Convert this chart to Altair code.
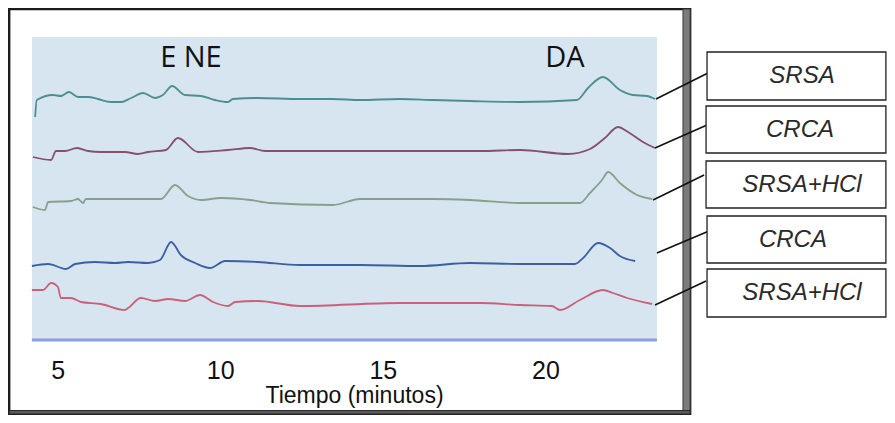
import altair as alt
import pandas as pd

# ---- chromatogram traces: time (min) and detector response (arb. units, stacked offsets)
t1 = [4.31, 4.36, 4.86, 5.10, 5.35, 5.63, 5.94, 6.24, 6.64, 6.95, 7.26, 7.63, 8.00, 8.24, 8.52, 8.92, 9.41, 9.84,
      10.24, 10.39, 11.16, 12.45, 13.47, 14.30, 15.53, 16.54, 17.68, 19.22, 20.97, 21.31, 21.77, 22.29, 22.69, 23.12, 23.37]
s1 = [223, 240, 245, 244, 248, 243, 243, 241, 238, 238, 242, 247, 242, 245, 254, 245, 244, 240,
      238, 241, 242, 241, 241, 240, 241, 240, 239, 238, 240, 252, 263, 250, 245, 244, 241]

t2 = [4.24, 4.80, 4.95, 5.23, 5.60, 5.94, 6.33, 7.07, 7.47, 7.78, 8.33, 8.70, 9.32, 10.24, 10.92, 11.38,
      12.45, 14.30, 16.14, 17.99, 19.22, 20.70, 21.37, 21.83, 22.23, 22.54, 23.00, 23.37]
s2 = [183, 180, 189, 189, 192, 189, 188, 188, 186, 188, 190, 202, 188, 190, 192, 189,
      189, 189, 189, 189, 190, 186, 191, 202, 213, 208, 198, 192]

t3 = [4.24, 4.61, 4.71, 5.41, 5.63, 5.78, 5.87, 6.64, 8.18, 8.61, 9.01, 9.41, 10.03, 10.92, 11.53, 13.47,
      14.30, 16.54, 17.68, 19.22, 20.14, 21.06, 21.37, 21.74, 21.93, 22.29, 22.82, 23.28]
s3 = [133, 130, 138, 139, 141, 137, 141, 141, 141, 155, 144, 140, 142, 140, 137, 135,
      141, 141, 140, 137, 137, 137, 147, 160, 168, 157, 145, 141]

t4 = [4.21, 4.71, 5.26, 5.54, 6.15, 6.77, 7.17, 7.78, 8.15, 8.49, 8.79, 9.23, 9.69, 10.15, 11.16, 12.45,
      14.30, 16.14, 17.68, 19.22, 20.91, 21.16, 21.62, 21.99, 22.29, 22.76]
s4 = [74, 76, 71, 76, 78, 77, 78, 77, 80, 98, 85, 77, 72, 79, 78, 75,
      75, 74, 77, 76, 76, 82, 97, 92, 84, 79]

t5 = [4.21, 4.55, 4.80, 5.01, 5.10, 5.41, 5.72, 6.33, 7.07, 7.17, 7.56, 8.00, 8.40, 8.92, 9.38, 9.78,
      10.24, 10.46, 11.16, 12.45, 15.53, 17.99, 19.22, 20.20, 20.45, 21.06, 21.77, 22.08, 22.51, 23.28]
s5 = [50, 50, 57, 53, 42, 42, 38, 36, 30, 32, 42, 39, 41, 39, 45, 38,
      34, 38, 39, 34, 37, 37, 35, 34, 30, 40, 50, 47, 42, 36]

trace_ids = ["T1", "T2", "T3", "T4", "T5"]
trace_colors = ["#4b8f90", "#86506c", "#86a08a", "#3c5ea3", "#cc5f79"]

# ---- peak annotations
peak_names = ["E NE", "DA"]
peak_t = [9.10, 20.60]
peak_s = [273, 273]

# ---- sample label boxes (right side) and leader lines
label_names = ["SRSA", "CRCA", "SRSA+HCl", "CRCA", "SRSA+HCl"]
label_text_t = [27.89, 27.83, 27.89, 27.61, 27.89]
label_text_s = [264, 210, 155, 100, 47]
box_t0 = [24.97, 24.94, 24.94, 24.97, 24.97]
box_t1 = [30.47, 30.47, 30.47, 30.47, 30.47]
box_s0 = [288, 234, 179, 124, 71]
box_s1 = [240, 187, 132, 77, 23]
lead_t0 = [23.40, 23.37, 23.31, 23.43, 23.37]
lead_s0 = [241, 192, 140, 87, 35]
lead_t1 = [25.00, 24.97, 24.88, 25.03, 24.94]
lead_s1 = [267, 215, 165, 109, 59]

# ---- axis
tick_values = [5, 10, 15, 20]
x_title = "Tiempo (minutos)"

# ---- plot region and frame (in data units)
plot_t = [4.21, 23.43]
plot_s = [0, 303]
frame_t = [3.51, 24.45]
frame_s = [331, -74]

W, H = 879, 407
xs = alt.Scale(domain=[3.475, 30.504], nice=False, zero=False)
ys = alt.Scale(domain=[-75, 332], nice=False, zero=False)

rows = []
for tid, tt, ss in zip(trace_ids, [t1, t2, t3, t4, t5], [s1, s2, s3, s4, s5]):
    for i, (a, b) in enumerate(zip(tt, ss)):
        rows.append({"trace": tid, "t": a, "s": b, "i": i})
df = pd.DataFrame(rows)

frame_df = pd.DataFrame({"t0": [frame_t[0]], "t1": [frame_t[1]], "s0": [frame_s[0]], "s1": [frame_s[1]]})
rbar_df = pd.DataFrame({"t0": [24.23], "t1": [24.45], "s0": [frame_s[0]], "s1": [frame_s[1]]})
bbar_df = pd.DataFrame({"t0": [frame_t[0]], "t1": [frame_t[1]], "s0": [-70.5], "s1": [frame_s[1]]})
plot_df = pd.DataFrame({"t0": [plot_t[0]], "t1": [plot_t[1]], "s0": [plot_s[0]], "s1": [plot_s[1]]})
base_df = pd.DataFrame({"t0": [plot_t[0]], "t1": [plot_t[1]], "s": [0]})
peak_df = pd.DataFrame({"name": peak_names, "t": peak_t, "s": peak_s})
box_df = pd.DataFrame({"t0": box_t0, "t1": box_t1, "s0": box_s0, "s1": box_s1})
lab_df = pd.DataFrame({"name": label_names, "t": label_text_t, "s": label_text_s})
lead_df = pd.DataFrame({"t0": lead_t0, "t1": lead_t1, "s0": lead_s0, "s1": lead_s1})


def rect_layer(data, **mk):
    return alt.Chart(data).mark_rect(**mk).encode(
        x=alt.X("t0:Q", scale=xs, axis=None),
        x2="t1:Q",
        y=alt.Y("s0:Q", scale=ys, axis=None),
        y2="s1:Q",
    )


frame = rect_layer(frame_df, fill="white", stroke="#1c1c1c", strokeWidth=2.5)
rbar = rect_layer(rbar_df, fill="#7b7b7b", stroke="#3a3a3a", strokeWidth=1)
bbar = rect_layer(bbar_df, fill="#5a5a5a", stroke="#2a2a2a", strokeWidth=1)
plotbg = rect_layer(plot_df, fill="#d6e5f0")

baseline = alt.Chart(base_df).mark_rule(color="#8d9edb", strokeWidth=3).encode(
    x=alt.X("t0:Q", scale=xs, axis=None), x2="t1:Q", y=alt.Y("s:Q", scale=ys, axis=None)
)

lines = alt.Chart(df).mark_line(strokeWidth=1.8, interpolate="monotone").encode(
    x=alt.X(
        "t:Q",
        scale=xs,
        axis=alt.Axis(
            values=tick_values,
            offset=-75,
            zindex=2,
            domain=False,
            ticks=False,
            tickSize=0,
            grid=False,
            labelPadding=38,
            labelBaseline="alphabetic",
            labelFont="Liberation Sans",
            labelFontSize=25,
            labelColor="#111111",
            labelFlush=False,
            title=x_title,
            titleFont="Liberation Sans",
            titleFontSize=23,
            titleFontWeight="normal",
            titleColor="#111111",
            titleX=346,
            titleY=62,
            titleBaseline="alphabetic",
            titleAlign="center",
        ),
    ),
    y=alt.Y("s:Q", scale=ys, axis=None),
    color=alt.Color("trace:N", scale=alt.Scale(domain=trace_ids, range=trace_colors), legend=None),
    detail="trace:N",
    order="i:Q",
)

peaks = alt.Chart(peak_df).mark_text(
    font="Open Sans", fontSize=29, color="#111111", baseline="alphabetic", align="center"
).encode(x=alt.X("t:Q", scale=xs, axis=None), y=alt.Y("s:Q", scale=ys, axis=None), text="name:N")

leads = alt.Chart(lead_df).mark_rule(color="#111111", strokeWidth=1.6).encode(
    x=alt.X("t0:Q", scale=xs, axis=None), x2="t1:Q",
    y=alt.Y("s0:Q", scale=ys, axis=None), y2="s1:Q",
)

boxes = rect_layer(box_df, fill="white", stroke="#222222", strokeWidth=1.3)

labels = alt.Chart(lab_df).mark_text(
    font="Liberation Sans", fontSize=24, fontStyle="italic", color="#2a2a2a", baseline="middle", align="center"
).encode(x=alt.X("t:Q", scale=xs, axis=None), y=alt.Y("s:Q", scale=ys, axis=None), text="name:N")

chart = alt.layer(
    frame, rbar, bbar, plotbg, baseline, lines, peaks, leads, boxes, labels
).resolve_axis(
    x="independent", y="independent"
).properties(
    width=W, height=H, padding=0, autosize=alt.AutoSizeParams(type="none"), background="white"
).configure_view(stroke=None)

chart.save("out.html", embed_options={"renderer": "svg", "actions": False})
